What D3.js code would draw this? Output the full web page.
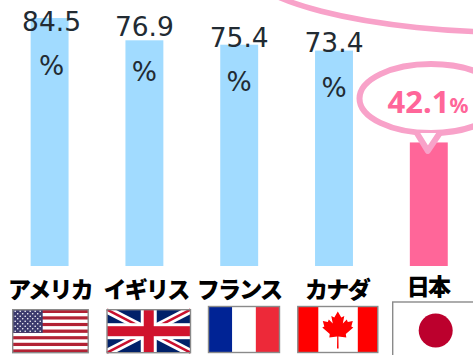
<!DOCTYPE html>
<html lang="ja">
<head>
<meta charset="utf-8">
<script src="https://cdn.jsdelivr.net/npm/d3@7/dist/d3.min.js"></script>
<style>
html,body{margin:0;padding:0;background:#fff;overflow:hidden}
svg{display:block}
</style>
</head>
<body>
<svg id="chart" width="473" height="355"></svg>
<script>
// Share of respondents by country
const countries = ["アメリカ", "イギリス", "フランス", "カナダ", "日本"];
const values = [84.5, 76.9, 75.4, 73.4, 42.1];
const barColors = ["#a1dbff", "#a1dbff", "#a1dbff", "#a1dbff", "#ff6699"];

const svg = d3.select("#chart");
const x = d3.scaleBand().domain(countries).range([2.2, 476.2]).paddingInner(0.6).paddingOuter(0.3);
const y = d3.scaleLinear().domain([0, 84.5]).range([266, 18]);
const latin = "'DejaVu Sans', sans-serif";
const cjk = "'Noto Sans CJK JP', sans-serif";
const pink = "#f8a2c9";

// Large speech bubble running off the top edge
svg.append("ellipse").attr("cx", 520).attr("cy", -40)
  .attr("rx", 281).attr("ry", 72.5)
  .attr("fill", "#fff").attr("stroke", pink).attr("stroke-width", 5.5);

// Bars
svg.selectAll("rect.bar").data(countries).join("rect").attr("class", "bar")
  .attr("x", d => x(d)).attr("width", x.bandwidth())
  .attr("y", (d, i) => y(values[i]))
  .attr("height", (d, i) => y(0) - y(values[i]))
  .attr("fill", (d, i) => barColors[i]);

// Value labels for the first four bars: number above, percent sign wrapped below
const labelled = countries.slice(0, 4);
const labelShift = [2, 0, 0, 0];
const numberBase = [31, 36, 47.3, 51.7];
const percentBase = [75, 81, 91, 96.7];
svg.selectAll("text.val").data(labelled).join("text").attr("class", "val")
  .attr("x", (d, i) => x(d) + x.bandwidth() / 2 + labelShift[i])
  .attr("y", (d, i) => numberBase[i])
  .attr("text-anchor", "middle").attr("font-family", latin).attr("font-size", 26.5)
  .attr("fill", "#222b33").text((d, i) => values[i].toFixed(1));
svg.selectAll("text.pct").data(labelled).join("text").attr("class", "pct")
  .attr("x", (d, i) => x(d) + x.bandwidth() / 2 + labelShift[i])
  .attr("y", (d, i) => percentBase[i])
  .attr("text-anchor", "middle").attr("font-family", latin).attr("font-size", 26.5)
  .attr("fill", "#222b33").text("%");

// Callout over the last bar
const jp = countries[4];
const cxJp = x(jp) + x.bandwidth() / 2;
const tipY = y(values[4]) + 8.5;
const bubble = d3.path();
bubble.moveTo(cxJp - 12, 133);
bubble.lineTo(cxJp - 1, tipY);
bubble.lineTo(cxJp + 11, 133);
svg.append("ellipse").attr("cx", 431).attr("cy", 98.5).attr("rx", 71.5).attr("ry", 34.5)
  .attr("fill", "#fff").attr("stroke", pink).attr("stroke-width", 6);
svg.append("path").attr("d", bubble.toString()).attr("fill", "#fff")
  .attr("stroke", pink).attr("stroke-width", 6).attr("stroke-linejoin", "round");
svg.append("text").attr("x", 387.5).attr("y", 113)
  .attr("font-family", "'Noto Sans', sans-serif").attr("font-weight", 700).attr("fill", "#ff6699")
  .call(t => t.append("tspan").attr("font-size", 31).text(values[4].toFixed(1)))
  .call(t => t.append("tspan").attr("font-size", 21).text("%"));

// Country names
const nameX = [50, 146, 239, 337, 428];
svg.selectAll("text.name").data(countries).join("text").attr("class", "name")
  .attr("x", (d, i) => nameX[i]).attr("y", (d, i) => i === 4 ? 295 : 297.5)
  .attr("text-anchor", "middle").attr("font-family", cjk).attr("font-weight", 900)
  .attr("font-size", 23).attr("letter-spacing", -1.7).attr("fill", "#000").text(d => d);

// Flags
const frame = "#8a8a8a";
function usFlag(g, w, h) {
  d3.range(13).forEach(i => g.append("rect").attr("y", i * h / 13).attr("width", w).attr("height", h / 13 + .2)
    .attr("fill", i % 2 ? "#fff" : "#b22234"));
  g.append("rect").attr("width", 30).attr("height", h * 7 / 13).attr("fill", "#3c3b6e");
  d3.range(9).forEach(r => d3.range(r % 2 ? 5 : 6).forEach(c => g.append("circle")
    .attr("cx", (r % 2 ? 5 : 2.5) + c * 5).attr("cy", 1.5 + r * 2.5).attr("r", .8).attr("fill", "#fff")));
}
function ukFlag(g, w, h) {
  g.append("rect").attr("width", w).attr("height", h).attr("fill", "#012169");
  [[0, 0, w, h], [w, 0, 0, h]].forEach(s => {
    g.append("line").attr("x1", s[0]).attr("y1", s[1]).attr("x2", s[2]).attr("y2", s[3]).attr("stroke", "#fff").attr("stroke-width", 8);
    g.append("line").attr("x1", s[0]).attr("y1", s[1]).attr("x2", s[2]).attr("y2", s[3]).attr("stroke", "#c8102e").attr("stroke-width", 2.5);
  });
  g.append("rect").attr("x", w / 2 - 8).attr("width", 16).attr("height", h).attr("fill", "#fff");
  g.append("rect").attr("y", h / 2 - 8).attr("width", w).attr("height", 16).attr("fill", "#fff");
  g.append("rect").attr("x", w / 2 - 5).attr("width", 10).attr("height", h).attr("fill", "#d0132d");
  g.append("rect").attr("y", h / 2 - 5).attr("width", w).attr("height", 10).attr("fill", "#d0132d");
}
function frFlag(g, w, h) {
  ["#002395", "#fff", "#ed2939"].forEach((c, i) => g.append("rect").attr("x", i * w / 3).attr("width", w / 3 + .2).attr("height", h).attr("fill", c));
}
function caFlag(g, w, h) {
  g.append("rect").attr("width", w).attr("height", h).attr("fill", "#fff");
  g.append("rect").attr("width", 20.5).attr("height", h).attr("fill", "#f00");
  g.append("rect").attr("x", w - 20).attr("width", 20).attr("height", h).attr("fill", "#f00");
  g.append("path").attr("fill", "#f00").attr("transform", `translate(${w / 2},5)`)
    .attr("d", "M0,0L3.5,6L6.5,4.5L5,12L9,8L10,10.5L15,9.5L13.5,15L15.5,16L8,22.5L8.5,26L.6,25L.8,37L-.8,37L-.6,25L-8.5,26L-8,22.5L-15.5,16L-13.5,15L-15,9.5L-10,10.5L-9,8L-5,12L-6.5,4.5L-3.5,6Z");
}
function jpFlag(g, w, h) {
  g.append("rect").attr("width", w).attr("height", h).attr("fill", "#fff");
  g.append("circle").attr("cx", 43).attr("cy", 28.5).attr("r", 17).attr("fill", "#bc002d");
}
const flags = [
  [usFlag, 12.7, 309.7, 75.5, 43],
  [ukFlag, 107, 309.7, 83.5, 43],
  [frFlag, 208.5, 306.5, 71, 46],
  [caFlag, 297.8, 306.5, 80, 46],
  [jpFlag, 392.7, 302, 85, 60]
];
flags.forEach(([draw, fx, fy, w, h]) => {
  const g = svg.append("g").attr("transform", `translate(${fx},${fy})`);
  draw(g, w, h);
  g.append("rect").attr("width", w).attr("height", h).attr("fill", "none").attr("stroke", frame).attr("stroke-width", 1.4);
});
</script>
</body>
</html>
